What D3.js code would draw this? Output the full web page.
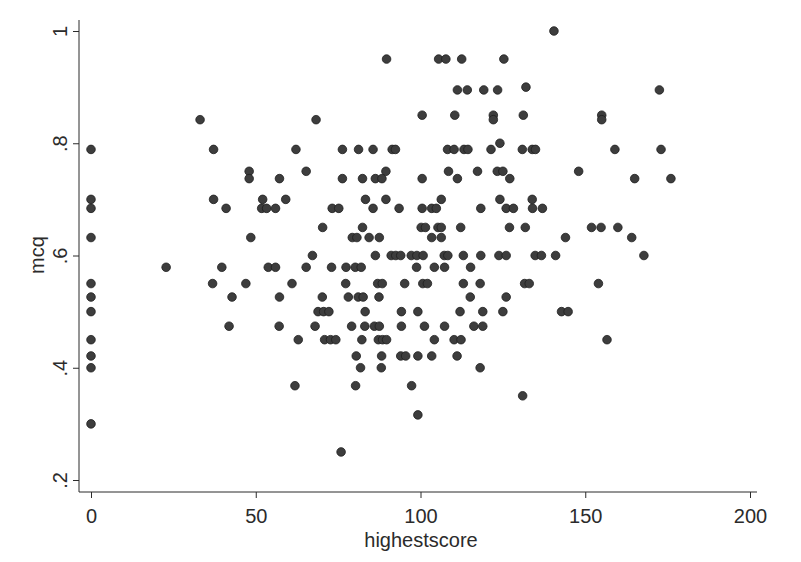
<!DOCTYPE html>
<html><head><meta charset="utf-8">
<script src="https://cdn.jsdelivr.net/npm/d3@7"></script>
<style>body{margin:0;background:#fff}svg{display:block}</style>
</head><body><svg id="c" width="801" height="562"></svg>
<script>
// mcq levels (rows of points) and the highestscore values found on each row
const mcqLevels = [1, 0.95, 0.9, 0.895, 0.85, 0.842, 0.8, 0.789, 0.75, 0.737, 0.7, 0.684, 0.65, 0.632, 0.6, 0.579, 0.55, 0.526, 0.5, 0.474, 0.45, 0.421, 0.4, 0.368, 0.35, 0.316, 0.3, 0.25];
const scoresByLevel = [
  [140.5],
  [89.7, 105.5, 107.7, 112.5, 125.3],
  [132],
  [111.2, 114.2, 119.2, 123.4, 172.5],
  [100.5, 110.4, 122.1, 131.2, 155],
  [33.1, 68.3, 122.1, 155],
  [124.1],
  [0, 37.2, 62.2, 76.3, 81.2, 85.6, 91.4, 92.4, 108.2, 110.2, 113.2, 114.4, 121.4, 130.9, 133.9, 134.9, 159, 173],
  [48, 65.3, 89.5, 108.5, 117.3, 123.3, 125, 148],
  [48, 57.2, 76.3, 82.4, 86.3, 88.3, 100.5, 111.2, 127.1, 165, 176],
  [0, 37.2, 52.1, 59.1, 83.3, 89.5, 106.3, 124.1, 133.9],
  [0, 41, 51.8, 53.3, 56, 73.2, 75.2, 85.6, 93.5, 100.5, 103.4, 104.8, 118.3, 126, 128.2, 134, 137],
  [70.3, 82.4, 100.2, 101.5, 105.3, 106.3, 112.2, 127, 131.8, 151.9, 154.8, 159.9],
  [0, 48.5, 79.3, 80.7, 84.4, 87.5, 103.4, 106.3, 144, 164.1],
  [67.2, 86.3, 91.1, 92.5, 94, 97.2, 98.9, 100.8, 107.2, 108.3, 113, 118.3, 123.8, 126, 134.8, 136.7, 141, 167.8],
  [22.8, 39.7, 53.8, 56, 65.3, 73, 77.4, 80.2, 82, 98.8, 104.2, 107.3, 115.2],
  [0, 36.9, 47, 61, 77.3, 87, 88.4, 95.2, 100.7, 102.1, 113, 118.1, 131.6, 133, 154],
  [0, 42.8, 57.2, 70.2, 78.1, 81.1, 82.6, 87.4, 115.1, 126],
  [0, 68.9, 70.6, 72.2, 83.2, 94.2, 99.2, 112, 118.9, 125, 142.8, 144.8],
  [41.9, 57.1, 68, 79.1, 83.1, 86, 87.5, 94.2, 101.2, 107.3, 116.2, 118.9],
  [0, 62.9, 70.9, 72.7, 74.3, 82.2, 87.2, 88.5, 89.7, 104.2, 110.2, 112.3, 156.6],
  [0, 80.5, 88.2, 94, 95.5, 99.2, 103.4, 111.1],
  [0, 81.8, 88.1, 118.1],
  [61.9, 80.3, 97.3],
  [131],
  [99.2],
  [0],
  [75.9]
];
const xTicks = [0, 50, 100, 150, 200];
const xTickLabels = ["0", "50", "100", "150", "200"];
const yTicks = [0.2, 0.4, 0.6, 0.8, 1];
const yTickLabels = [".2", ".4", ".6", ".8", "1"];
const xTitle = "highestscore";
const yTitle = "mcq";

const points = [];
mcqLevels.forEach((m, i) => scoresByLevel[i].forEach(s => points.push({ x: s, y: m })));

const svg = d3.select("#c");
const font = "'Liberation Sans', Arial, Helvetica, sans-serif";
const ink = "#2b2b2b";
const fs = 20;

const x = d3.scaleLinear().domain([0, 200]).range([91, 750]);
const y = d3.scaleLinear().domain([0.2, 1]).range([480, 31]);

const axisLeftX = 79, axisBottomY = 492;

// axis lines
svg.append("line").attr("x1", axisLeftX).attr("x2", axisLeftX).attr("y1", 20).attr("y2", axisBottomY)
  .attr("stroke", ink).attr("stroke-width", 1);
svg.append("line").attr("x1", axisLeftX).attr("x2", 757).attr("y1", axisBottomY).attr("y2", axisBottomY)
  .attr("stroke", ink).attr("stroke-width", 1);

// bottom axis
const gx = svg.append("g").attr("transform", `translate(0,${axisBottomY})`)
  .call(d3.axisBottom(x).tickValues(xTicks).tickFormat((d, i) => xTickLabels[i]).tickSize(6).tickPadding(11));
gx.select(".domain").remove();
gx.selectAll(".tick line").attr("stroke", ink);
gx.selectAll(".tick text").attr("font-family", font).attr("font-size", fs).attr("fill", ink);

// left axis
const gy = svg.append("g").attr("transform", `translate(${axisLeftX},0)`)
  .call(d3.axisLeft(y).tickValues(yTicks).tickFormat((d, i) => yTickLabels[i]).tickSize(6));
gy.select(".domain").remove();
gy.selectAll(".tick line").attr("stroke", ink);
gy.selectAll(".tick text")
  .attr("x", null).attr("dy", null).attr("y", null)
  .attr("text-anchor", "middle")
  .attr("transform", "translate(-12,0) rotate(-90)")
  .attr("font-family", font).attr("font-size", fs).attr("fill", ink);

// titles
svg.append("text").attr("x", 421).attr("y", 547).attr("text-anchor", "middle")
  .attr("font-family", font).attr("font-size", fs).attr("fill", ink).text(xTitle);
svg.append("text").attr("transform", "translate(44,255) rotate(-90)").attr("text-anchor", "middle")
  .attr("font-family", font).attr("font-size", fs).attr("fill", ink).text(yTitle);

// points
svg.append("g").selectAll("circle").data(points).join("circle")
  .attr("cx", d => x(d.x)).attr("cy", d => y(d.y)).attr("r", 4.3)
  .attr("fill", "#3d3d3d").attr("stroke", "#1e1e1e").attr("stroke-width", 0.8);
</script></body></html>
